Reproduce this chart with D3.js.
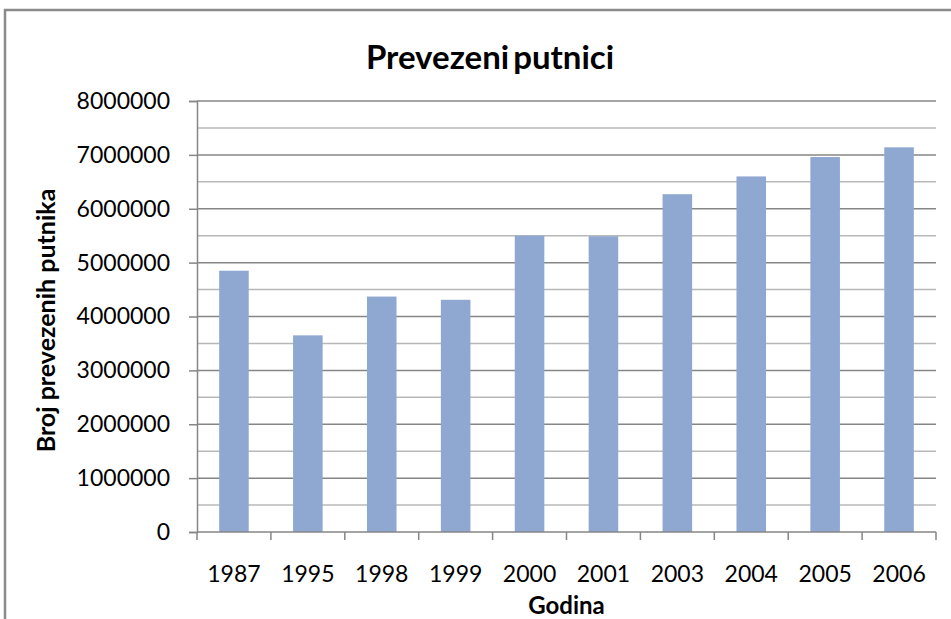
<!DOCTYPE html>
<html>
<head>
<meta charset="utf-8">
<script src="https://cdn.jsdelivr.net/npm/d3@7"></script>
<style>
    body { margin: 0; background: #fff; }
    text { font-family: Lato, "Open Sans", sans-serif; fill: #000; }
</style>
</head>
<body>
<div id="chart"></div>
<script>
// data
var years = ["1987", "1995", "1998", "1999", "2000", "2001", "2003", "2004", "2005", "2006"];
var passengers = [4850000, 3650000, 4370000, 4310000, 5500000, 5490000, 6270000, 6600000, 6960000, 7140000];
var majorTicks = [0, 1000000, 2000000, 3000000, 4000000, 5000000, 6000000, 7000000, 8000000];
var minorTicks = [500000, 1500000, 2500000, 3500000, 4500000, 5500000, 6500000, 7500000];

var data = years.map((y, i) => ({ year: y, value: passengers[i] }));

var W = 951, H = 619;
var margin = { top: 101, right: 15, bottom: 87, left: 197 },
    width = 936 - margin.left,
    height = 532 - margin.top;

var root = d3.select("#chart")
    .append("svg")
    .attr("width", W)
    .attr("height", H);

// chart frame (cut off at right and bottom like the original)
root.append("rect")
    .attr("x", 5)
    .attr("y", 10)
    .attr("width", W + 20)
    .attr("height", H + 20)
    .attr("fill", "none")
    .attr("stroke", "#8a8a8a")
    .attr("stroke-width", 2.5);

var svg = root.append("g")
    .attr("transform", "translate(" + margin.left + "," + margin.top + ")");

var x = d3.scaleBand()
    .domain(years)
    .range([0, width])
    .paddingInner(0.6)
    .paddingOuter(0.3);

var y = d3.scaleLinear()
    .domain([0, 8000000])
    .range([height, 0]);

// minor gridlines
svg.selectAll(".minor")
    .data(minorTicks)
    .enter()
    .append("line")
    .attr("x1", 0)
    .attr("x2", width)
    .attr("y1", d => y(d))
    .attr("y2", d => y(d))
    .attr("stroke", "#b8b8b8")
    .attr("stroke-width", 1.5);

// major gridlines
svg.selectAll(".major")
    .data(majorTicks.filter(d => d > 0))
    .enter()
    .append("line")
    .attr("x1", 0)
    .attr("x2", width)
    .attr("y1", d => y(d))
    .attr("y2", d => y(d))
    .attr("stroke", "#868686")
    .attr("stroke-width", 1.5);

// bars
svg.selectAll(".bar")
    .data(data)
    .enter()
    .append("rect")
    .attr("x", d => x(d.year))
    .attr("y", d => y(d.value))
    .attr("width", x.bandwidth())
    .attr("height", d => height - y(d.value))
    .attr("fill", "#8fa8d2");

// y axis
var yAxis = svg.append("g")
    .call(d3.axisLeft(y).tickValues(majorTicks).tickFormat(d3.format("d")).tickSize(8).tickPadding(19));
yAxis.select(".domain").attr("stroke", "#868686").attr("stroke-width", 1.5);
yAxis.selectAll(".tick line").attr("stroke", "#868686").attr("stroke-width", 1.5);
yAxis.selectAll("text").style("font-size", "23px").attr("fill", "#000").style("font-family", "Lato, sans-serif");

// x axis with ticks between categories
var xAxis = svg.append("g")
    .attr("transform", "translate(0," + height + ")");
xAxis.append("line")
    .attr("x1", 0).attr("x2", width)
    .attr("stroke", "#868686").attr("stroke-width", 1.5);
xAxis.selectAll(".xt")
    .data(d3.range(years.length + 1))
    .enter()
    .append("line")
    .attr("x1", i => i * width / years.length)
    .attr("x2", i => i * width / years.length)
    .attr("y1", 0)
    .attr("y2", 8)
    .attr("stroke", "#868686")
    .attr("stroke-width", 1.5);
xAxis.selectAll(".xl")
    .data(years)
    .enter()
    .append("text")
    .attr("x", d => x(d) + x.bandwidth() / 2)
    .attr("y", 50)
    .attr("text-anchor", "middle")
    .style("font-size", "23px")
    .text(d => d);

// titles
root.append("text")
    .attr("x", 490)
    .attr("y", 69)
    .attr("text-anchor", "middle")
    .style("font-size", "33px")
    .style("font-weight", "bold")
    .style("word-spacing", "-4px")
    .text("Prevezeni putnici");

root.append("text")
    .attr("x", margin.left + width / 2)
    .attr("y", 614)
    .attr("text-anchor", "middle")
    .style("font-size", "24px")
    .style("font-weight", "bold")
    .text("Godina");

root.append("text")
    .attr("transform", "translate(55," + (margin.top + height / 2 + 4) + ")rotate(-90)")
    .attr("text-anchor", "middle")
    .style("font-size", "25px")
    .style("font-weight", "bold")
    .text("Broj prevezenih putnika");
</script>
</body>
</html>
